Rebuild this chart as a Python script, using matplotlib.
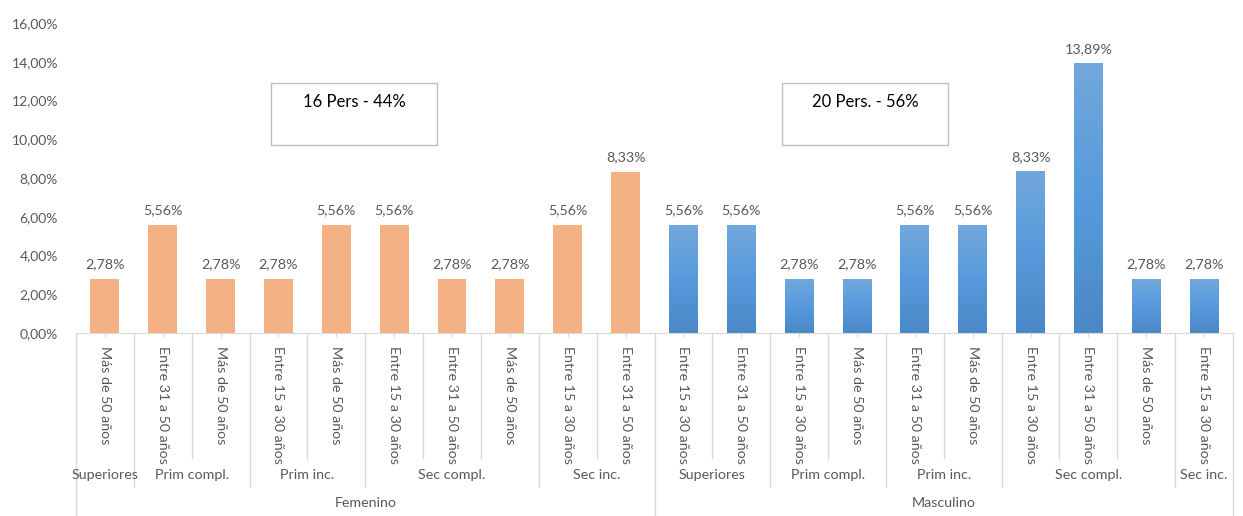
import numpy as np
import matplotlib.pyplot as plt
import matplotlib.transforms as mtransforms
from matplotlib.patches import Rectangle
from matplotlib.colors import LinearSegmentedColormap

plt.rcParams['font.family'] = ['Lato', 'DejaVu Sans']

# data
genders = ['Femenino'] * 10 + ['Masculino'] * 10
levels = ['Superiores', 'Prim compl.', 'Prim compl.', 'Prim inc.', 'Prim inc.',
          'Sec compl.', 'Sec compl.', 'Sec compl.', 'Sec inc.', 'Sec inc.',
          'Superiores', 'Superiores', 'Prim compl.', 'Prim compl.', 'Prim inc.',
          'Prim inc.', 'Sec compl.', 'Sec compl.', 'Sec compl.', 'Sec inc.']
ages = ['Más de 50 años', 'Entre 31 a 50 años', 'Más de 50 años', 'Entre 15 a 30 años',
        'Más de 50 años', 'Entre 15 a 30 años', 'Entre 31 a 50 años', 'Más de 50 años',
        'Entre 15 a 30 años', 'Entre 31 a 50 años',
        'Entre 15 a 30 años', 'Entre 31 a 50 años', 'Entre 15 a 30 años', 'Más de 50 años',
        'Entre 31 a 50 años', 'Más de 50 años', 'Entre 15 a 30 años', 'Entre 31 a 50 años',
        'Más de 50 años', 'Entre 15 a 30 años']
values = [2.78, 5.56, 2.78, 2.78, 5.56, 5.56, 2.78, 2.78, 5.56, 8.33,
          5.56, 5.56, 2.78, 2.78, 5.56, 5.56, 8.33, 13.89, 2.78, 2.78]
notes = {'Femenino': '16 Pers - 44%', 'Masculino': '20 Pers. - 56%'}

text_col = '#595959'
line_col = '#D9D9D9'
orange = '#F4B183'
blue_cmap = LinearSegmentedColormap.from_list('b', ['#4A88C8', '#579ADB', '#72A8DC'])

fig = plt.figure(figsize=(12.43, 5.16), dpi=100)
ax = fig.add_axes([76 / 1243, 183 / 516, 1157 / 1243, 310 / 516])

x = np.arange(len(values))
colors = [orange if g == 'Femenino' else 'none' for g in genders]
bars = ax.bar(x, values, width=0.5, color=colors, zorder=2)

# gradient fill for the blue bars
grad = np.linspace(0, 1, 256).reshape(-1, 1)
for b, g in zip(bars, genders):
    if g != 'Masculino':
        continue
    x0, y0 = b.get_x(), b.get_y()
    ax.imshow(grad, cmap=blue_cmap, origin='lower', aspect='auto',
              extent=[x0, x0 + b.get_width(), y0, y0 + b.get_height()], zorder=2)

for xi, v in zip(x, values):
    ax.text(xi, v + 0.45, f'{v:.2f}%'.replace('.', ','), ha='center', va='bottom',
            fontsize=10.3, color=text_col)

ax.set_xlim(-0.5, len(values) - 0.5)
ax.set_ylim(0, 16)
ax.set_yticks(np.arange(0, 17, 2))
ax.set_yticklabels([f'{t:.2f}%'.replace('.', ',') for t in np.arange(0, 17, 2)],
                   fontsize=10, color=text_col)
ax.tick_params(axis='y', length=0, pad=13)

ax.set_xticks(x)
ax.set_xticklabels(ages, rotation=270, fontsize=10.3, color=text_col, va='top', ha='center')
ax.tick_params(axis='x', length=3, color=line_col, pad=6)

for s in ['top', 'right', 'left']:
    ax.spines[s].set_visible(False)
ax.spines['bottom'].set_color(line_col)

trans = mtransforms.blended_transform_factory(ax.transData, ax.transAxes)

# separators under the axis
bounds = [-0.5] + [i + 0.5 for i in range(len(values) - 1)] + [len(values) - 0.5]
for i, bx in enumerate(bounds):
    if i == 0 or i == len(values):
        depth = -0.59
    elif genders[i - 1] != genders[i]:
        depth = -0.59
    elif levels[i - 1] != levels[i]:
        depth = -0.497
    else:
        depth = -0.403
    ax.plot([bx, bx], [0, depth], transform=trans, color=line_col, lw=1, clip_on=False)

# level labels
start = 0
for i in range(1, len(values) + 1):
    if i == len(values) or levels[i] != levels[start] or genders[i] != genders[start]:
        ax.text((start + i - 1) / 2, -0.458, levels[start], transform=trans,
                ha='center', va='center', fontsize=10.3, color=text_col)
        start = i

# gender labels
for g in ['Femenino', 'Masculino']:
    idx = [i for i, gg in enumerate(genders) if gg == g]
    ax.text((idx[0] + idx[-1]) / 2, -0.548, g, transform=trans,
            ha='center', va='center', fontsize=10.3, color=text_col)

# annotation boxes
box_pos = {'Femenino': (271 - 76) / 1157, 'Masculino': (782 - 76) / 1157}
for g, bx in box_pos.items():
    ax.add_patch(Rectangle((bx, 0.607), 166 / 1157, 0.2, transform=ax.transAxes,
                           fill=False, edgecolor='#BFBFBF', lw=1, clip_on=False))
    ax.text(bx + 83 / 1157, 0.745, notes[g], transform=ax.transAxes, ha='center',
            va='center', fontsize=12, color='black')

fig.savefig('out.png', dpi=100)
